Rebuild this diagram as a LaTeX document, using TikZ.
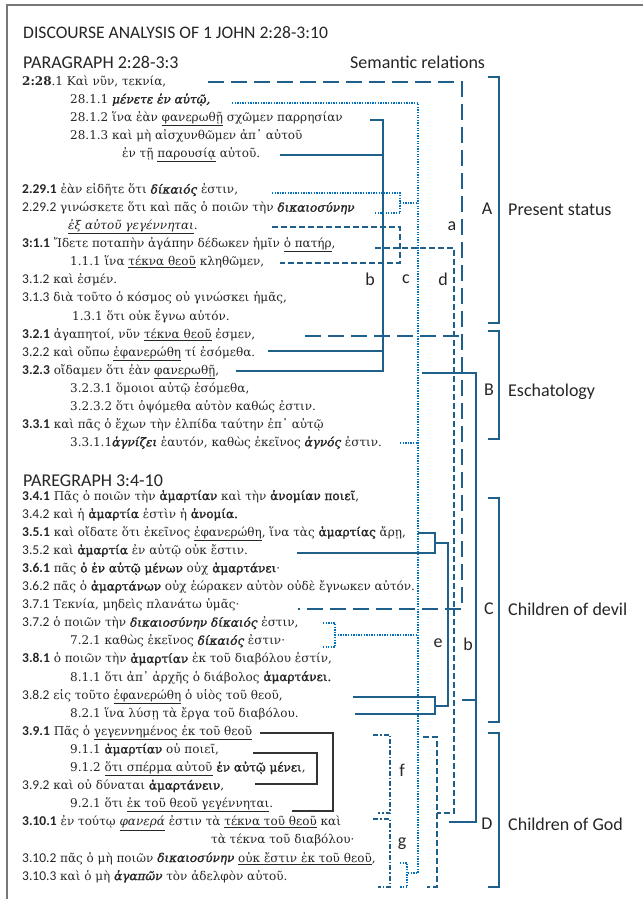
\documentclass[tikz,border=0pt]{standalone}
\usepackage{fontspec}
\setmainfont{DejaVu Serif}
\newfontfamily\lab{Carlito}
\definecolor{lb}{RGB}{31,95,140}
\definecolor{db}{RGB}{0,112,192}
\definecolor{tx}{RGB}{38,38,38}
\definecolor{fr}{RGB}{120,120,120}
\newcommand{\bd}[1]{{\addfontfeature{FakeBold=1.6}#1}}
\newcommand{\bi}[1]{{\itshape\addfontfeature{FakeBold=1.6}#1}}
\newcommand{\gu}[1]{\underline{#1}}
\newcommand{\nm}[1]{{\lab\fontsize{13.5}{14}\selectfont #1}}
\newcommand{\nmb}[1]{{\lab\bfseries\fontsize{13.5}{14}\selectfont #1}}
\tikzset{
  gk/.style={anchor=base west, inner sep=0pt, font=\fontsize{12}{14}\selectfont, text=tx},
  hd/.style={anchor=base west, inner sep=0pt, font=\lab\fontsize{18}{20}\selectfont, text=tx},
  lt/.style={anchor=center, inner sep=0pt, font=\lab\fontsize{18}{20}\selectfont, text=tx},
  solidln/.style={draw=lb, line width=1.6pt},
  longdash/.style={draw=lb, line width=1.6pt, dash pattern=on 16pt off 7pt},
  meddash/.style={draw=lb, line width=1.6pt, dash pattern=on 6pt off 3pt},
  dotln/.style={draw=db, line width=1.4pt, dash pattern=on 1.3pt off 1.3pt},
  dashdot/.style={draw=lb, line width=1.6pt, dash pattern=on 5pt off 2pt on 1.5pt off 2pt},
  boxln/.style={draw=black!80, line width=1.6pt},
  frameln/.style={draw=fr, line width=1.5pt},
}
\begin{document}
\begin{tikzpicture}[x=1pt,y=-1pt]
\useasboundingbox (0,0) rectangle (643,899);
\fill[white] (0,0) rectangle (643,899);
\draw[frameln] (643,5) -- (7,5) -- (7,899);

% headings
\node[hd, font=\lab\fontsize{17.6}{20}\selectfont] (title) at (23,38) {DISCOURSE ANALYSIS OF 1 JOHN 2:28-3:10};
\node[hd] (par1) at (23,68) {PARAGRAPH 2:28-3:3};
\node[hd] (semrel) at (350,69) {Semantic relations};
\node[hd] (par2) at (23,486) {PAREGRAPH 3:4-10};

% paragraph 1 (baseline 85.3 + 18.05 i)
\node[gk] (p0) at (22,85.3) {\textbf{2:28}.1 Καὶ νῦν, τεκνία,};
\node[gk] (p1) at (70,103.4) {28.1.1 \bi{μένετε ἐν αὐτῷ,}};
\node[gk] (p2) at (70,121.4) {28.1.2 ἵνα ἐὰν \gu{φανερωθῇ} σχῶμεν παρρησίαν};
\node[gk] (p3) at (70,139.5) {28.1.3 καὶ μὴ αἰσχυνθῶμεν ἀπ᾽ αὐτοῦ};
\node[gk] (p4) at (122,157.5) {ἐν τῇ \gu{παρουσίᾳ} αὐτοῦ.};
\node[gk] (p6) at (22,193.6) {\nmb{2.29.1} ἐὰν εἰδῆτε ὅτι \bi{δίκαιός} ἐστιν,};
\node[gk] (p7) at (22,211.7) {\nm{2.29.2} γινώσκετε ὅτι καὶ πᾶς ὁ ποιῶν τὴν \bi{δικαιοσύνην}};
\node[gk] (p8) at (68,229.7) {\gu{\textit{ἐξ αὐτοῦ γεγέννηται}}.};
\node[gk] (p9) at (22,247.8) {\nmb{3:1.1} Ἴδετε ποταπὴν ἀγάπην δέδωκεν ἡμῖν \gu{ὁ πατήρ},};
\node[gk] (p10) at (70,265.8) {1.1.1 ἵνα \gu{τέκνα θεοῦ} κληθῶμεν,};
\node[gk] (p11) at (22,283.8) {\nm{3.1.2} καὶ ἐσμέν.};
\node[gk] (p12) at (22,301.9) {\nm{3.1.3} διὰ τοῦτο ὁ κόσμος οὐ γινώσκει ἡμᾶς,};
\node[gk] (p13) at (72,320) {1.3.1 ὅτι οὐκ ἔγνω αὐτόν.};
\node[gk] (p14) at (22,338) {\nmb{3.2.1} ἀγαπητοί, νῦν \gu{τέκνα θεοῦ} ἐσμεν,};
\node[gk] (p15) at (22,356) {\nm{3.2.2} καὶ οὔπω \gu{ἐφανερώθη} τί ἐσόμεθα.};
\node[gk] (p16) at (22,374.1) {\nmb{3.2.3} οἴδαμεν ὅτι ἐὰν \gu{φανερωθῇ},};
\node[gk] (p17) at (70,392.2) {3.2.3.1 ὅμοιοι αὐτῷ ἐσόμεθα,};
\node[gk] (p18) at (70,410.2) {3.2.3.2 ὅτι ὀψόμεθα αὐτὸν καθώς ἐστιν.};
\node[gk] (p19) at (22,428.3) {\nmb{3.3.1} καὶ πᾶς ὁ ἔχων τὴν ἐλπίδα ταύτην ἐπ᾽ αὐτῷ};
\node[gk] (p20) at (70,446.3) {3.3.1.1\bi{ἁγνίζει} ἑαυτόν, καθὼς ἐκεῖνος \bi{ἁγνός} ἐστιν.};

% paragraph 2 (baseline 500 + 18.1 j)
\node[gk] (q0) at (22,500) {\nmb{3.4.1} Πᾶς ὁ ποιῶν τὴν \bd{ἁμαρτίαν} καὶ τὴν \bd{ἀνομίαν ποιεῖ},};
\node[gk] (q1) at (22,518.1) {\nm{3.4.2} καὶ ἡ \bd{ἁμαρτία} ἐστὶν ἡ \bd{ἀνομία.}};
\node[gk] (q2) at (22,536.2) {\nmb{3.5.1} καὶ οἴδατε ὅτι ἐκεῖνος \gu{ἐφανερώθη}, ἵνα τὰς \bd{ἁμαρτίας} ἄρῃ,};
\node[gk] (q3) at (22,554.3) {\nm{3.5.2} καὶ \bd{ἁμαρτία} ἐν αὐτῷ οὐκ ἔστιν.};
\node[gk] (q4) at (22,572.4) {\nmb{3.6.1} πᾶς \bd{ὁ ἐν αὐτῷ μένων} οὐχ \bd{ἁμαρτάνει}·};
\node[gk] (q5) at (22,590.5) {\nm{3.6.2} πᾶς ὁ \bd{ἁμαρτάνων} οὐχ ἑώρακεν αὐτὸν οὐδὲ ἔγνωκεν αὐτόν.};
\node[gk] (q6) at (22,608.6) {\nm{3.7.1} Τεκνία, μηδεὶς πλανάτω ὑμᾶς·};
\node[gk] (q7) at (22,626.7) {\nm{3.7.2} ὁ ποιῶν τὴν \bi{δικαιοσύνην δίκαιός} ἐστιν,};
\node[gk] (q8) at (70,644.8) {7.2.1 καθὼς ἐκεῖνος \bi{δίκαιός} ἐστιν·};
\node[gk] (q9) at (22,662.9) {\nmb{3.8.1} ὁ ποιῶν τὴν \bd{ἁμαρτίαν} ἐκ τοῦ διαβόλου ἐστίν,};
\node[gk] (q10) at (70,681) {8.1.1 ὅτι ἀπ᾽ ἀρχῆς ὁ διάβολος \bd{ἁμαρτάνει.}};
\node[gk] (q11) at (22,699.1) {\nm{3.8.2} εἰς τοῦτο \gu{ἐφανερώθη} ὁ υἱὸς τοῦ θεοῦ,};
\node[gk] (q12) at (70,717.2) {8.2.1 ἵνα λύσῃ τὰ ἔργα τοῦ διαβόλου.};
\node[gk] (q13) at (22,735.3) {\nmb{3.9.1} Πᾶς ὁ \gu{γεγεννημένος ἐκ τοῦ θεοῦ}};
\node[gk] (q14) at (70,753.4) {9.1.1 \bd{ἁμαρτίαν} οὐ ποιεῖ,};
\node[gk] (q15) at (70,771.5) {9.1.2 \gu{ὅτι σπέρμα αὐτοῦ} \bd{ἐν αὐτῷ μένει},};
\node[gk] (q16) at (22,789.6) {\nm{3.9.2} καὶ οὐ δύναται \bd{ἁμαρτάνειν},};
\node[gk] (q17) at (70,807.7) {9.2.1 ὅτι \gu{ἐκ τοῦ θεοῦ γεγέννηται}.};
\node[gk] (q18) at (22,825.8) {\nmb{3.10.1} ἐν τούτῳ \gu{\textit{φανερά}} ἐστιν τὰ \gu{τέκνα τοῦ θεοῦ} καὶ};
\node[gk] (q19) at (211,843.9) {τὰ τέκνα τοῦ διαβόλου·};
\node[gk] (q20) at (22,862) {\nm{3.10.2} πᾶς ὁ μὴ ποιῶν \bi{δικαιοσύνην} \gu{οὐκ ἔστιν ἐκ τοῦ θεοῦ},};
\node[gk] (q21) at (22,880.1) {\nm{3.10.3} καὶ ὁ μὴ \bi{ἀγαπῶν} τὸν ἀδελφὸν αὐτοῦ.};

% relation a (long dash)
\coordinate (a1) at (208,82); \coordinate (a2) at (462,82);
\coordinate (a3) at (305,336); \coordinate (a4) at (462,336);
\coordinate (a5) at (298,609); \coordinate (a6) at (462,609);
\draw[longdash] (a1) -- (a2) -- (a6) -- (a5);
\draw[longdash] (a3) -- (a4);

% relation b (upper, solid)
\coordinate (b1) at (370,120); \coordinate (b2) at (383,120);
\coordinate (b3) at (280,155); \coordinate (b4) at (383,155);
\coordinate (b5) at (268,351); \coordinate (b6) at (383,351);
\coordinate (b7) at (236,371); \coordinate (b8) at (383,371);
\draw[solidln] (b1) -- (b2) -- (b8) -- (b7);
\draw[solidln] (b3) -- (b4);
\draw[solidln] (b5) -- (b6);

% relation c (dotted)
\coordinate (c1) at (232,103); \coordinate (c2) at (418,103);
\coordinate (c3) at (418,873); \coordinate (c4) at (407,873);
\draw[dotln] (c1) -- (c2) -- (c3) -- (c4);
\coordinate (c5) at (272,193); \coordinate (c6) at (400,193);
\coordinate (c7) at (400,213); \coordinate (c8) at (375,213);
\draw[dotln] (c5) -- (c6) -- (c7) -- (c8);
\coordinate (c9) at (400,203); \coordinate (c10) at (418,203);
\draw[dotln] (c9) -- (c10);
\coordinate (c11) at (400,443); \coordinate (c12) at (418,443);
\draw[dotln] (c11) -- (c12);
\coordinate (c13) at (323,623); \coordinate (c14) at (335,623);
\coordinate (c15) at (335,647); \coordinate (c16) at (323,647);
\draw[dotln] (c13) -- (c14) -- (c15) -- (c16);
\coordinate (c17) at (335,635); \coordinate (c18) at (418,635);
\draw[dotln] (c17) -- (c18);
\coordinate (c19) at (400,863); \coordinate (c20) at (407,863);
\coordinate (c21) at (407,887); \coordinate (c22) at (400,887);
\draw[dotln] (c19) -- (c20) -- (c21) -- (c22);

% relation d (dashed)
\coordinate (d1) at (272,227); \coordinate (d2) at (400,227);
\coordinate (d3) at (400,263); \coordinate (d4) at (280,263);
\draw[meddash] (d1) -- (d2) -- (d3) -- (d4);
\coordinate (d5) at (375,248); \coordinate (d6) at (454,248);
\coordinate (d7) at (454,813); \coordinate (d8) at (437,813);
\draw[meddash] (d5) -- (d6) -- (d7) -- (d8);
\coordinate (d9) at (423,737); \coordinate (d10) at (437,737);
\coordinate (d11) at (437,887); \coordinate (d12) at (427,887);
\draw[meddash] (d9) -- (d10) -- (d11) -- (d12);

% relation b (lower, solid)
\coordinate (bb1) at (422,373); \coordinate (bb2) at (476,373);
\coordinate (bb3) at (476,822); \coordinate (bb4) at (449,822);
\draw[solidln] (bb1) -- (bb2) -- (bb3) -- (bb4);
\coordinate (bb5) at (462,700); \coordinate (bb6) at (476,700);
\draw[solidln] (bb5) -- (bb6);

% relation e (solid)
\coordinate (e1) at (418,533); \coordinate (e2) at (435,533);
\coordinate (e3) at (435,553); \coordinate (e4) at (297,553);
\draw[solidln] (e1) -- (e2) -- (e3) -- (e4);
\coordinate (e5) at (435,543); \coordinate (e6) at (448,543);
\coordinate (e7) at (448,706); \coordinate (e8) at (435,706);
\draw[solidln] (e5) -- (e6) -- (e7) -- (e8);
\coordinate (e9) at (353,697); \coordinate (e10) at (435,697);
\coordinate (e11) at (435,714); \coordinate (e12) at (355,714);
\draw[solidln] (e9) -- (e10) -- (e11) -- (e12);

% black boxes
\coordinate (k1) at (260,733); \coordinate (k2) at (333,733);
\coordinate (k3) at (333,811); \coordinate (k4) at (292,811);
\draw[boxln] (k1) -- (k2) -- (k3) -- (k4);
\coordinate (k5) at (253,753); \coordinate (k6) at (317,753);
\coordinate (k7) at (317,784); \coordinate (k8) at (255,784);
\draw[boxln] (k5) -- (k6) -- (k7) -- (k8);

% f and g (dash dot)
\coordinate (f1) at (373,735); \coordinate (f2) at (390,735);
\coordinate (f3) at (390,813); \coordinate (f4) at (378,813);
\draw[dashdot] (f1) -- (f2) -- (f3) -- (f4);
\coordinate (g1) at (373,819); \coordinate (g2) at (390,819);
\coordinate (g3) at (390,887); \coordinate (g4) at (378,887);
\draw[dashdot] (g1) -- (g2) -- (g3) -- (g4);

% right braces
\coordinate (A1) at (488,77); \coordinate (A2) at (499,77);
\coordinate (A3) at (499,323); \coordinate (A4) at (488,323);
\draw[solidln] (A1) -- (A2) -- (A3) -- (A4);
\coordinate (B1) at (488,331); \coordinate (B2) at (499,331);
\coordinate (B3) at (499,439); \coordinate (B4) at (488,439);
\draw[solidln] (B1) -- (B2) -- (B3) -- (B4);
\coordinate (C1) at (488,498); \coordinate (C2) at (499,498);
\coordinate (C3) at (499,722); \coordinate (C4) at (488,722);
\draw[solidln] (C1) -- (C2) -- (C3) -- (C4);
\coordinate (D1) at (488,733); \coordinate (D2) at (499,733);
\coordinate (D3) at (499,887); \coordinate (D4) at (488,887);
\draw[solidln] (D1) -- (D2) -- (D3) -- (D4);

% labels
\node[lt] (la) at (452,226) {a};
\node[lt] (lb1) at (370,279) {b};
\node[lt] (lc) at (406,279) {c};
\node[lt] (ld) at (443,279) {d};
\node[lt] (le) at (438,643) {e};
\node[lt] (lb2) at (468,644) {b};
\node[lt] (lf) at (402,770) {f};
\node[lt] (lg) at (402,844) {g};
\node[lt] (lA) at (487,209) {A};
\node[lt] (lB) at (489,390) {B};
\node[lt] (lC) at (489,609) {C};
\node[lt] (lD) at (487,824) {D};
\node[hd] (tA) at (508,215) {Present status};
\node[hd] (tB) at (508,396) {Eschatology};
\node[hd] (tC) at (508,615) {Children of devil};
\node[hd] (tD) at (508,830) {Children of God};
\end{tikzpicture}
\end{document}
